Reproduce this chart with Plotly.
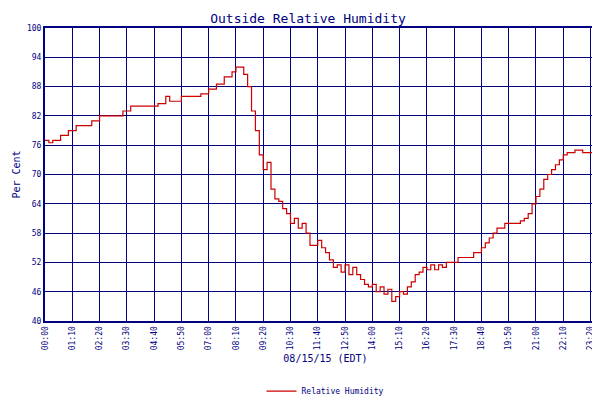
import pandas as pd
import plotly.graph_objects as go

# readings (time, relative humidity %)
times = ["00:00", "00:10", "00:20", "00:40", "01:00", "01:20", "02:00", "02:20", "03:00", "03:20",
         "03:40", "04:50", "05:10", "05:20", "05:50", "06:40", "07:00", "07:20", "07:40", "08:00",
         "08:10", "08:20", "08:30", "08:40", "08:50", "09:00", "09:10", "09:20", "09:30", "09:40",
         "09:50", "10:00", "10:10", "10:20", "10:30", "10:40", "10:50", "11:00", "11:10", "11:20",
         "11:40", "11:50", "12:00", "12:10", "12:20", "12:30", "12:40", "12:50", "13:00", "13:10",
         "13:20", "13:30", "13:40", "13:50", "14:00", "14:10", "14:20", "14:30", "14:40", "14:50",
         "15:00", "15:10", "15:20", "15:30", "15:40", "15:50", "16:00", "16:10", "16:20", "16:30",
         "16:40", "16:50", "17:00", "17:10", "17:20", "17:40", "18:00", "18:20", "18:40", "18:50",
         "19:00", "19:10", "19:20", "19:40", "20:20", "20:30", "20:40", "20:50", "21:00", "21:10",
         "21:20", "21:30", "21:40", "21:50", "22:00", "22:10", "22:20", "22:40", "23:00", "23:59"]
humidity = [77, 76.5, 77, 78, 79, 80, 81, 82, 82, 83,
            84, 84.5, 86, 85, 86, 86.5, 87.5, 88.5, 90, 91,
            92, 92, 90.5, 88, 83, 79, 74, 71, 72.5, 67,
            65, 64.5, 63, 62, 60, 61, 59, 60, 58, 55.5,
            56.5, 55, 54, 52.5, 51, 51.5, 50, 51.5, 49.5, 51,
            49.5, 48.5, 47.5, 47, 47.5, 46, 47, 45.5, 46.5, 44,
            45, 46, 45.5, 47, 48, 49.5, 50, 51, 50.5, 51.5,
            50.5, 51.5, 51, 52, 52, 53, 53, 54, 55, 56,
            57, 58, 59, 60, 60.5, 61, 62, 64, 65.5, 67,
            69, 70, 71, 72, 73, 74, 74.5, 75, 74.5, 74.5]

tick_labels = ["00:00", "01:10", "02:20", "03:30", "04:40", "05:50", "07:00", "08:10", "09:20",
               "10:30", "11:40", "12:50", "14:00", "15:10", "16:20", "17:30", "18:40", "19:50",
               "21:00", "22:10", "23:20", "23:59"]

day = "2015-08-15 "
x = pd.to_datetime([day + t for t in times])
ticks = pd.to_datetime([day + t for t in tick_labels])

navy = "#000080"
mono = "DejaVu Sans Mono"

fig = go.Figure()
fig.add_trace(go.Scatter(x=x, y=humidity, mode="lines", line_shape="hv",
                         line=dict(color="#cc0000", width=1.2), name="Relative Humidity"))

fig.update_layout(
    width=600, height=400,
    margin=dict(l=37, r=2, t=20, b=63),
    paper_bgcolor="white", plot_bgcolor="white",
    title=dict(text="Outside Relative Humidity", x=0.5, y=0.985, yanchor="top",
               font=dict(family=mono, size=13, color=navy)),
    font=dict(family=mono, size=9, color=navy),
    showlegend=True,
    legend=dict(orientation="h", x=0.5, xanchor="center", y=-0.19, yanchor="top",
                font=dict(family=mono, size=8, color=navy)),
)
fig.update_xaxes(range=[ticks[0], ticks[-1] + pd.Timedelta(seconds=40)],
                 tickvals=ticks, ticktext=tick_labels, automargin=False,
                 tickangle=-90, tickfont=dict(size=8), showgrid=True, gridcolor=navy, gridwidth=1,
                 showline=True, linecolor=navy, linewidth=2, mirror=True,
                 title=dict(text="08/15/15 (EDT)", standoff=6,
                            font=dict(family=mono, size=10, color=navy)))
fig.update_yaxes(range=[40, 100], tick0=40, dtick=6, automargin=False, tickfont=dict(size=8),
                 showgrid=True, gridcolor=navy, gridwidth=1,
                 showline=True, linecolor=navy, linewidth=2, mirror=True,
                 title=dict(text="Per Cent", standoff=4, font=dict(family=mono, size=10, color=navy)))

fig.write_html("out.html")
